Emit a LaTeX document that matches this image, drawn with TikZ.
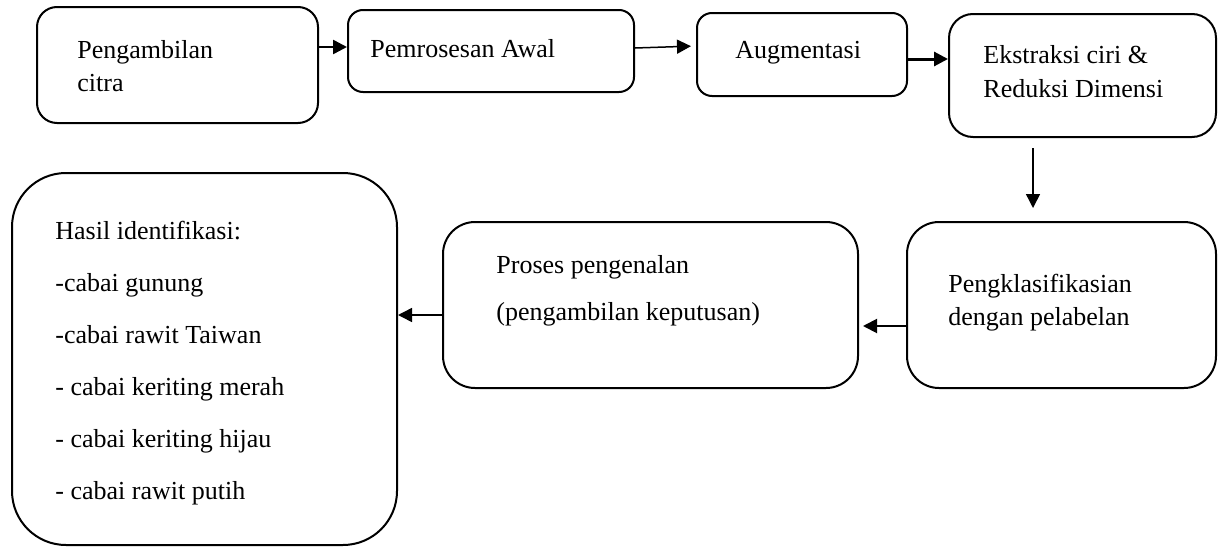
\documentclass[tikz,border=0pt]{standalone}
\usepackage{fontspec}
\setmainfont{Liberation Serif}
\usepackage{tikz}
\usetikzlibrary{arrows.meta}
\tikzset{
 box/.style={draw, line width=1pt, rounded corners=#1, inner sep=0pt},
 box/.default=8pt,
 txt/.style={anchor=base west, inner sep=0pt, font=\fontsize{13}{16.5}\selectfont},
 flow/.style={-{Triangle[length=7pt,width=7pt]}, line width=#1},
 flow/.default=0.75pt
}

\begin{document}
\begin{tikzpicture}[x=0.5pt,y=-0.5pt]
\useasboundingbox (0,0) rectangle (1219,546);
\node[box=10pt, minimum width=140.5pt, minimum height=58pt] (citra) at (177.5,65) {};
\node[box=7.5pt, minimum width=143pt, minimum height=41pt] (awal) at (491,51) {};
\node[box=7.5pt, minimum width=105pt, minimum height=41.5pt] (aug) at (802,54.5) {};
\node[box=12pt, minimum width=133.5pt, minimum height=61.5pt] (ekstr) at (1082.5,75.5) {};
\node[box=16pt, minimum width=154.5pt, minimum height=83pt] (klas) at (1061.5,305) {};
\node[box=16pt, minimum width=207.5pt, minimum height=83pt] (kenal) at (650.5,305) {};
\node[box=27pt, minimum width=192.5pt, minimum height=186pt] (hasil) at (204.5,359) {};

\node[txt] (citra1) at (77,58) {Pengambilan};
\node[txt] (citra2) at (77,91) {citra};
\node[txt] (awal1) at (370,57) {Pemrosesan Awal};
\node[txt] (aug1) at (735,58) {Augmentasi};
\node[txt] (ekstr1) at (983,63) {Ekstraksi ciri \&};
\node[txt] (ekstr2) at (983,97) {Reduksi Dimensi};
\node[txt] (klas1) at (948,292) {Pengklasifikasian};
\node[txt] (klas2) at (948,325) {dengan pelabelan};
\node[txt] (kenal1) at (496,273) {Proses pengenalan};
\node[txt] (kenal2) at (496,320) {(pengambilan keputusan)};
\foreach \t [count=\i from 0] in {Hasil identifikasi:, -cabai gunung, -cabai rawit Taiwan, - cabai keriting merah, - cabai keriting hijau, - cabai rawit putih}
 \node[txt] (hasil\i) at (55,{239+52*\i}) {\t};

\draw[flow=1.25pt] (citra.east |- 0,47) -- (awal.west |- 0,47);
\draw[flow, shorten >=2.5pt] (awal.east |- 0,48) -- (aug.west |- 0,46);
\draw[flow=1.5pt] (aug.east |- 0,59) -- (ekstr.west |- 0,59);
\draw[flow, shorten <=5pt, shorten >=6.5pt] (ekstr.south -| 1033,0) -- (klas.north -| 1033,0);
\draw[flow=1pt, shorten >=2pt] (klas.west |- 0,326) -- (kenal.east |- 0,326);
\draw[flow] (kenal.west |- 0,315) -- (hasil.east |- 0,315);
\end{tikzpicture}
\end{document}
